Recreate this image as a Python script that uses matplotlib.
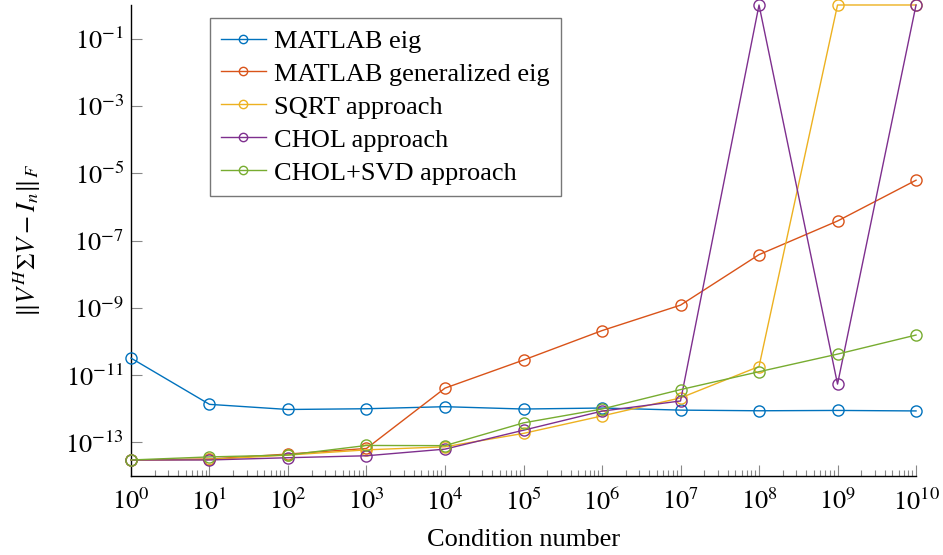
import numpy as np
import matplotlib
matplotlib.use("Agg")
import matplotlib.pyplot as plt
from matplotlib.ticker import FixedLocator, LogLocator, NullLocator, NullFormatter

# ---- data --------------------------------------------------------------------
cond = [1e0, 1e1, 1e2, 1e3, 1e4, 1e5, 1e6, 1e7, 1e8, 1e9, 1e10]

matlab_eig = [3.2e-11, 1.35e-12, 9.5e-13, 1.0e-12, 1.15e-12, 9.8e-13,
              1.05e-12, 9.1e-13, 8.7e-13, 8.9e-13, 8.6e-13]
matlab_geig = [3.0e-14, 3.2e-14, 4.5e-14, 6.6e-14, 4.1e-12, 2.8e-11,
               2.1e-10, 1.2e-9, 3.8e-8, 3.8e-7, 6.2e-6]
sqrt_appr = [3.0e-14, 3.1e-14, 4.2e-14, 6.0e-14, 7.4e-14, 1.85e-13,
             6.1e-13, 2.1e-12, 1.8e-11, 1.0, 1.0]
chol_appr = [3.0e-14, 3.0e-14, 3.5e-14, 4.0e-14, 6.3e-14, 2.3e-13,
             8.5e-13, 1.7e-12, 1.0, 5.4e-12, 1.0]
cholsvd_appr = [3.0e-14, 3.7e-14, 4.2e-14, 8.1e-14, 8.0e-14, 3.8e-13,
                9.8e-13, 3.7e-12, 1.26e-11, 4.2e-11, 1.55e-10]

labels = ["MATLAB eig", "MATLAB generalized eig", "SQRT approach",
          "CHOL approach", "CHOL+SVD approach"]
colors = ["#0072BD", "#D95319", "#EDB120", "#7E2F8E", "#77AC30"]

yticks = [1e-13, 1e-11, 1e-9, 1e-7, 1e-5, 1e-3, 1e-1]

# ---- style -------------------------------------------------------------------
plt.rcParams["font.family"] = ["Liberation Serif", "DejaVu Serif"]
plt.rcParams["mathtext.fontset"] = "stix"
FS = 19

fig = plt.figure(figsize=(9.43, 5.55), dpi=100)
ax = fig.add_axes([0.1389, 0.1423, 0.9714 - 0.1389, 0.991 - 0.1423])

series = [matlab_eig, matlab_geig, sqrt_appr, chol_appr, cholsvd_appr]
for ys, lab, c in zip(series, labels, colors):
    ax.plot(cond, ys, color=c, lw=1.0, marker="o", ms=8, mfc="none",
            mec=c, mew=1.0, label=lab, clip_on=False, zorder=3)

ax.set_xscale("log")
ax.set_yscale("log")
ax.set_xlim(1e0, 1e10)
ax.set_ylim(1e-14, 1e0)

ax.xaxis.set_major_locator(FixedLocator(cond))
ax.xaxis.set_minor_locator(LogLocator(base=10, subs=np.arange(2, 10), numticks=20))
ax.xaxis.set_minor_formatter(NullFormatter())
ax.set_xticklabels([f"$10^{{{i}}}$" for i in range(11)])

ax.yaxis.set_major_locator(FixedLocator(yticks))
ax.yaxis.set_minor_locator(NullLocator())
ax.set_yticklabels([f"$10^{{{int(np.log10(t))}}}$" for t in yticks])

ax.tick_params(axis="both", which="major", direction="in", length=8,
               width=0.8, color="#888888", labelsize=FS)
ax.tick_params(axis="x", which="major", pad=9)
ax.tick_params(axis="y", which="major", pad=5)
ax.tick_params(axis="x", which="minor", direction="in", length=4.5,
               width=0.8, color="#888888")

for s in ("top", "right"):
    ax.spines[s].set_visible(False)
for s in ("left", "bottom"):
    ax.spines[s].set_linewidth(1.0)

ax.set_xlabel("Condition number", fontsize=FS, labelpad=10)
ax.set_ylabel(r"$\|V^H\Sigma V - I_n\|_F$", fontsize=FS, labelpad=16)

leg = ax.legend(loc="upper left", bbox_to_anchor=(0.1006, 0.972), fontsize=FS,
                frameon=True, fancybox=False, edgecolor="#555555",
                handlelength=1.7, handletextpad=0.3, labelspacing=0.36,
                borderpad=0.42, borderaxespad=0.0, markerscale=0.75)
leg.get_frame().set_linewidth(1.0)

fig.savefig("out.png", dpi=100)
